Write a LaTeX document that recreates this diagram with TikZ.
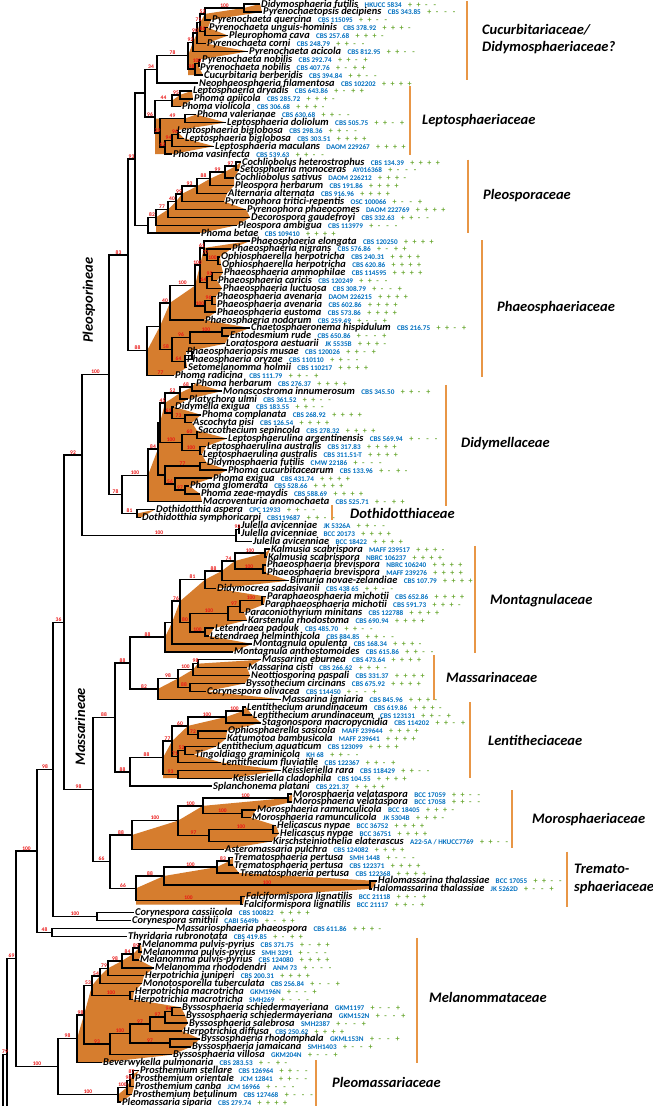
\documentclass[tikz,border=0pt]{standalone}
\usepackage{fontspec}
\setmainfont{Carlito}
\usetikzlibrary{calc}
\pgfdeclarelayer{background}
\pgfsetlayers{background,main}
\definecolor{cladefill}{RGB}{214,125,46}
\definecolor{barcol}{RGB}{232,150,70}
\definecolor{strainblue}{RGB}{0,112,192}
\definecolor{markgreen}{RGB}{106,168,50}
\definecolor{supred}{RGB}{235,20,20}
\tikzset{
 br/.style={line width=1.4pt, black},
 nm/.style={anchor=base west, inner sep=0pt, text height=6pt, text depth=0.8pt, font=\fontsize{10.4}{10.4}\selectfont\bfseries\itshape},
 st/.style={anchor=base west, inner sep=0pt, text height=5pt, text depth=0.5pt, text=strainblue, font=\fontsize{7.2}{7.2}\selectfont\bfseries},
 mks/.style={anchor=base west, inner sep=0pt, text height=5pt, text depth=0.5pt, text=markgreen, font=\fontsize{8}{8}\selectfont\bfseries},
 sup/.style={text=supred, font=\fontsize{5.5}{5.5}\selectfont\bfseries, inner sep=0pt, text height=3.5pt, text depth=0pt, anchor=south, yshift=0.6pt},
 clade/.style={fill=cladefill},
 fambar/.style={draw=barcol, line width=1.4pt},
 fam/.style={anchor=west, inner sep=0pt, font=\fontsize{14.5}{14.5}\selectfont\bfseries\itshape},
}
\newcommand\mkc[1]{\makebox[8.5pt][l]{#1}}
\newcommand\mkrow[4]{\mkc{#1}\mkc{#2}\mkc{#3}\mkc{#4}}
\newcommand\leaf[5]{%
 \coordinate (t#1) at (#2-1,#1);
 \node[nm] (N#1) at ([xshift=1pt,yshift=-3pt]t#1) {#3};
 \node[st] (S#1) at ([xshift=6pt]N#1.base east) {#4};
 \node[mks] (M#1) at ([xshift=6pt]S#1.base east) {\mkrow#5};
}
\newcommand\nd[6]{%
 \path ($(#3)!0.5!(#5)$) coordinate (#1m);
 \path (#2,0 |- #1m) coordinate (#1);
 \draw[br] (#3) -| (#1) |- (#5);
 \node[sup] (#1la) at ($(#1 |- #3)!0.5!(#3)$) {#4};
 \node[sup] (#1lb) at ($(#1 |- #5)!0.5!(#5)$) {#6};
}
\begin{document}
\begin{tikzpicture}[x=1pt,y=-7.9pt]
\useasboundingbox (0pt,0pt) rectangle (653pt,-1106pt);
\clip (0pt,0pt) rectangle (653pt,-1106pt);
\begin{pgfonlayer}{background}
\fill[white] (0pt,0pt) rectangle (653pt,-1106pt);
\end{pgfonlayer}
\begin{scope}[yshift=3.9pt]
% ---------------- leaves
\leaf{1}{261}{Didymosphaeria futilis}{HKUCC 5834}{++--}
\leaf{2}{263}{Pyrenochaetopsis decipiens}{CBS 343.85}{+---}
\leaf{3}{212}{Pyrenochaeta quercina}{CBS 115095}{++--}
\leaf{4}{209}{Pyrenochaeta unguis-hominis}{CBS 378.92}{+++-}
\leaf{5}{229}{Pleurophoma cava}{CBS 257.68}{+++-}
\leaf{6}{207}{Pyrenochaeta corni}{CBS 248.79}{++--}
\leaf{7}{249}{Pyrenochaeta acicola}{CBS 812.95}{++--}
\leaf{8}{202}{Pyrenochaeta nobilis}{CBS 292.74}{++-+}
\leaf{9}{200}{Pyrenochaeta nobilis}{CBS 407.76}{+-++}
\leaf{10}{204}{Cucurbitaria berberidis}{CBS 394.84}{++--}
\leaf{11}{199}{Neophaeosphaeria filamentosa}{CBS 102202}{++++}
\leaf{12}{193}{Leptosphaeria dryadis}{CBS 643.86}{+-++}
\leaf{13}{194}{Phoma apiicola}{CBS 285.72}{+++-}
\leaf{14}{182}{Phoma violicola}{CBS 306.68}{+++-}
\leaf{15}{197}{Phoma valerianae}{CBS 630.68}{++--}
\leaf{16}{227}{Leptosphaeria doliolum}{CBS 505.75}{++-+}
\leaf{17}{177}{Leptosphaeria biglobosa}{CBS 298.36}{++--}
\leaf{18}{185}{Leptosphaeria biglobosa}{CBS 303.51}{++++}
\leaf{19}{215}{Leptosphaeria maculans}{DAOM 229267}{++++}
\leaf{20}{173}{Phoma vasinfecta}{CBS 539.63}{++--}
\leaf{21}{242}{Cochliobolus heterostrophus}{CBS 134.39}{++++}
\leaf{22}{240}{Setosphaeria monoceras}{AY016368}{+---}
\leaf{23}{235}{Cochliobolus sativus}{DAOM 226212}{+++-}
\leaf{24}{235}{Pleospora herbarum}{CBS 191.86}{++++}
\leaf{25}{228}{Alternaria alternata}{CBS 916.96}{++++}
\leaf{26}{225}{Pyrenophora tritici-repentis}{OSC 100066}{+--+}
\leaf{27}{247}{Pyrenophora phaeocomes}{DAOM 222769}{++++}
\leaf{28}{251}{Decorospora gaudefroyi}{CBS 332.63}{++--}
\leaf{29}{238}{Pleospora ambigua}{CBS 113979}{+---}
\leaf{30}{201}{Phoma betae}{CBS 109410}{++++}
\leaf{31}{251}{Phaeosphaeria elongata}{CBS 120250}{++++}
\leaf{32}{232}{Phaeosphaeria nigrans}{CBS 576.86}{+-++}
\leaf{33}{221}{Ophiosphaerella herpotricha}{CBS 240.31}{++++}
\leaf{34}{222}{Ophiosphaerella herpotricha}{CBS 620.86}{++++}
\leaf{35}{224}{Phaeosphaeria ammophilae}{CBS 114595}{++++}
\leaf{36}{218}{Phaeosphaeria caricis}{CBS 120249}{++--}
\leaf{37}{223}{Phaeosphaeria luctuosa}{CBS 308.79}{+--+}
\leaf{38}{217}{Phaeosphaeria avenaria}{DAOM 226215}{++++}
\leaf{39}{217}{Phaeosphaeria avenaria}{CBS 602.86}{++++}
\leaf{40}{217}{Phaeosphaeria eustoma}{CBS 573.86}{++++}
\leaf{41}{205}{Phaeosphaeria nodorum}{CBS 259.49}{+--+}
\leaf{42}{251}{Chaetosphaeronema hispidulum}{CBS 216.75}{++-+}
\leaf{43}{230}{Entodesmium rude}{CBS 650.86}{+--+}
\leaf{44}{226}{Loratospora aestuarii}{JK 5535B}{+++-}
\leaf{45}{187}{Phaeosphaeriopsis musae}{CBS 120026}{++-+}
\leaf{46}{187}{Phaeosphaeria oryzae}{CBS 110110}{++--}
\leaf{47}{188}{Setomelanomma holmii}{CBS 110217}{++++}
\leaf{48}{175}{Phoma radicina}{CBS 111.79}{++-+}
\leaf{49}{196}{Phoma herbarum}{CBS 276.37}{++++}
\leaf{50}{223}{Monascostroma innumerosum}{CBS 345.50}{++-+}
\leaf{51}{189}{Platychora ulmi}{CBS 361.52}{++--}
\leaf{52}{175}{Didymella exigua}{CBS 183.55}{++--}
\leaf{53}{202}{Phoma complanata}{CBS 268.92}{++++}
\leaf{54}{193}{Ascochyta pisi}{CBS 126.54}{++++}
\leaf{55}{198}{Saccothecium sepincola}{CBS 278.32}{++++}
\leaf{56}{228}{Leptosphaerulina argentinensis}{CBS 569.94}{+---}
\leaf{57}{207}{Leptosphaerulina australis}{CBS 317.83}{++++}
\leaf{58}{203}{Leptosphaerulina australis}{CBS 311.51-T}{++++}
\leaf{59}{207}{Didymosphaeria futilis}{CMW 22186}{+---}
\leaf{60}{228}{Phoma cucurbitacearum}{CBS 133.96}{+-+-}
\leaf{61}{213}{Phoma exigua}{CBS 431.74}{++++}
\leaf{62}{190}{Phoma glomerata}{CBS 528.66}{++++}
\leaf{63}{201}{Phoma zeae-maydis}{CBS 588.69}{++++}
\leaf{64}{203}{Macroventuria anomochaeta}{CBS 525.71}{+-++}
\leaf{65}{156}{Dothidotthia aspera}{CPC 12933}{++--}
\leaf{66}{142}{Dothidotthia symphoricarpi}{CBS119687}{++--}
\leaf{67}{241}{Julella avicenniae}{JK 5326A}{++--}
\leaf{68}{241}{Julella avicenniae}{BCC 20173}{++++}
\leaf{69}{253}{Julella avicenniae}{BCC 18422}{++++}
\leaf{70}{271}{Kalmusia scabrispora}{MAFF 239517}{+++-}
\leaf{71}{268}{Kalmusia scabrispora}{NBRC 106237}{++++}
\leaf{72}{267}{Phaeosphaeria brevispora}{NBRC 106240}{++++}
\leaf{73}{267}{Phaeosphaeria brevispora}{MAFF 239276}{++++}
\leaf{74}{290}{Bimuria novae-zelandiae}{CBS 107.79}{++++}
\leaf{75}{217}{Didymocrea sadasivanii}{CBS 438 65}{++--}
\leaf{76}{267}{Paraphaeosphaeria michotii}{CBS 652.86}{++++}
\leaf{77}{265}{Paraphaeosphaeria michotii}{CBS 591.73}{+++-}
\leaf{78}{245}{Paraconiothyrium minitans}{CBS 122788}{++++}
\leaf{79}{248}{Karstenula rhodostoma}{CBS 690.94}{++++}
\leaf{80}{215}{Letendraea padouk}{CBS 485.70}{++--}
\leaf{81}{210}{Letendraea helminthicola}{CBS 884.85}{++--}
\leaf{82}{253}{Montagnula opulenta}{CBS 168.34}{+++-}
\leaf{83}{234}{Montagnula anthostomoides}{CBS 615.86}{++--}
\leaf{84}{262}{Massarina eburnea}{CBS 473.64}{++++}
\leaf{85}{248}{Massarina cisti}{CBS 266.62}{+++-}
\leaf{86}{251}{Neottiosporina paspali}{CBS 331.37}{++++}
\leaf{87}{246}{Byssothecium circinans}{CBS 675.92}{++++}
\leaf{88}{207}{Corynespora olivacea}{CBS 114450}{+--+}
\leaf{89}{282}{Massarina igniaria}{CBS 845.96}{+++-}
\leaf{90}{247}{Lentithecium arundinaceum}{CBS 619.86}{+++-}
\leaf{91}{253}{Lentithecium arundinaceum}{CBS 123131}{++-+}
\leaf{92}{262}{Stagonospora macropycnidia}{CBS 114202}{++-+}
\leaf{93}{228}{Ophiosphaerella sasicola}{MAFF 239644}{++++}
\leaf{94}{227}{Katumotoa bambusicola}{MAFF 239641}{++++}
\leaf{95}{217}{Lentithecium aquaticum}{CBS 123099}{++++}
\leaf{96}{195}{Tingoldiago graminicola}{KH 68}{++--}
\leaf{97}{222}{Lentithecium fluviatile}{CBS 122367}{++-+}
\leaf{98}{282}{Keissleriella rara}{CBS 118429}{++--}
\leaf{99}{233}{Keissleriella cladophila}{CBS 104.55}{++++}
\leaf{100}{213}{Splanchonema platani}{CBS 221.37}{++++}
\leaf{101}{293}{Morosphaeria velataspora}{BCC 17059}{++--}
\leaf{102}{293}{Morosphaeria velataspora}{BCC 17058}{++--}
\leaf{103}{257}{Morosphaeria ramunculicola}{BCC 18405}{+++-}
\leaf{104}{252}{Morosphaeria ramunculicola}{JK 5304B}{+++-}
\leaf{105}{277}{Helicascus nypae}{BCC 36752}{++++}
\leaf{106}{280}{Helicascus nypae}{BCC 36751}{++++}
\leaf{107}{273}{Kirschsteiniothelia elaterascus}{A22-5A / HKUCC7769}{++--}
\leaf{108}{225}{Asteromassaria pulchra}{CBS 124082}{++++}
\leaf{109}{234}{Trematosphaeria pertusa}{SMH 1448}{+---}
\leaf{110}{234}{Trematosphaeria pertusa}{CBS 122371}{++++}
\leaf{111}{240}{Trematosphaeria pertusa}{CBS 122368}{++++}
\leaf{112}{378}{Halomassarina thalassiae}{BCC 17055}{++--}
\leaf{113}{373}{Halomassarina thalassiae}{JK 5262D}{+--+}
\leaf{114}{246}{Falciformispora lignatilis}{BCC 21118}{++-+}
\leaf{115}{244}{Falciformispora lignatilis}{BCC 21117}{++-+}
\leaf{116}{135}{Corynespora cassiicola}{CBS 100822}{++++}
\leaf{117}{132}{Corynespora smithii}{CABI 5649b}{+-++}
\leaf{118}{176}{Massariosphaeria phaeospora}{CBS 611.86}{+++-}
\leaf{119}{128}{Thyridaria rubronotata}{CBS 419.85}{+-++}
\leaf{120}{142}{Melanomma pulvis-pyrius}{CBS 371.75}{+-++}
\leaf{121}{143}{Melanomma pulvis-pyrius}{SMH 3291}{+---}
\leaf{122}{140}{Melanomma pulvis-pyrius}{CBS 124080}{++++}
\leaf{123}{155}{Melanomma rhododendri}{ANM 73}{+---}
\leaf{124}{145}{Herpotrichia juniperi}{CBS 200.31}{++++}
\leaf{125}{143}{Monotosporella tuberculata}{CBS 256.84}{+--+}
\leaf{126}{135}{Herpotrichia macrotricha}{GKM196N}{+--+}
\leaf{127}{134}{Herpotrichia macrotricha}{SMH269}{+---}
\leaf{128}{182}{Byssosphaeria schiedermayeriana}{GKM1197}{+--+}
\leaf{129}{186}{Byssosphaeria schiedermayeriana}{GKM152N}{+--+}
\leaf{130}{189}{Byssosphaeria salebrosa}{SMH2387}{+--+}
\leaf{131}{183}{Herpotrichia diffusa}{CBS 250.62}{++++}
\leaf{132}{201}{Byssosphaeria rhodomphala}{GKML153N}{+--+}
\leaf{133}{192}{Byssosphaeria jamaicana}{SMH1403}{+--+}
\leaf{134}{173}{Byssosphaeria villosa}{GKM204N}{+--+}
\leaf{135}{103}{Beverwykella pulmonaria}{CBS 283.53}{+-+-}
\leaf{136}{140}{Prosthemium stellare}{CBS 126964}{++--}
\leaf{137}{135}{Prosthemium orientale}{JCM 12841}{++--}
\leaf{138}{135}{Prosthemium canba}{JCM 16966}{+---}
\leaf{139}{133}{Prosthemium betulinum}{CBS 127468}{+---}
\leaf{140}{122}{Pleomassaria siparia}{CBS 279.74}{++++}
% ---------------- Cucurbitariaceae
\nd{c1}{244}{t1}{}{t2}{}
\nd{c2}{205}{c1}{100}{t3}{}
\nd{c3}{205}{t4}{}{t5}{}
\nd{c4}{200}{c2}{52}{c3}{86}
\nd{c5}{197}{c4}{71}{t6}{}
\nd{c6}{193}{c5}{90}{t7}{}
\nd{c7}{199}{t8}{}{t9}{}
\nd{c8}{195}{c7}{100}{t10}{}
\nd{c9}{188}{c6}{92}{c8}{98}
\nd{c10}{157}{c9}{78}{t11}{}
% ---------------- Leptosphaeriaceae
\nd{l1}{180}{t12}{}{t13}{}
\nd{l2}{172}{l1}{95}{t14}{}
\nd{l3}{185}{t15}{}{t16}{}
\nd{l4}{178}{t17}{}{t18}{}
\nd{l5}{172}{l4}{96}{t19}{}
\nd{l6}{165}{l5}{94}{t20}{}
\nd{l7}{160}{l3}{49}{l6}{62}
\nd{l8}{155}{l2}{44}{l7}{29}
\nd{cl}{145}{c10}{34}{l8}{96}
% ---------------- Pleosporaceae
\nd{p1}{236}{t21}{}{t22}{}
\nd{p2}{225}{p1}{97}{t23}{}
\nd{p3}{210}{p2}{99}{t24}{}
\nd{p4}{197}{p3}{88}{t25}{}
\nd{p5}{182}{p4}{93}{t26}{}
\nd{p6}{176}{p5}{99}{t27}{}
\nd{p7}{168}{p6}{40}{t28}{}
\nd{p8}{156}{p7}{77}{t29}{}
\nd{p9}{148}{p8}{82}{t30}{}
\nd{cp}{135}{cl}{}{p9}{}
% ---------------- Phaeosphaeriaceae
\nd{f1}{218}{t33}{}{t34}{}
\nd{f2}{207}{t32}{}{f1}{100}
\nd{f3}{204}{t31}{}{f2}{77}
\nd{f4}{212}{t35}{}{t36}{}
\nd{f5}{207}{f4}{95}{t37}{}
\nd{f6}{200}{f3}{61}{f5}{64}
\nd{f7}{212}{t38}{}{t39}{}
\nd{f8}{205}{f7}{96}{t40}{}
\nd{f9}{195}{f6}{100}{f8}{100}
\nd{fb}{170}{f9}{100}{t41}{}
\nd{f10}{222}{t42}{}{t43}{}
\nd{f11}{190}{f10}{100}{t44}{}
\nd{f12}{192}{t45}{}{t46}{}
\nd{f13}{185}{f12}{}{t47}{}
\nd{fc}{172}{f11}{96}{f13}{64}
\nd{fa}{160}{fb}{40}{fc}{58}
\nd{f}{147}{fa}{}{t48}{77}
\nd{X}{128}{cp}{93}{f}{88}
% ---------------- Didymellaceae / Dothidotthiaceae
\nd{g1}{192}{t49}{}{t50}{}
\nd{g2}{180}{g1}{68}{t51}{}
\nd{g3}{185}{t53}{}{t54}{}
\nd{g4}{172}{t52}{}{g3}{73}
\nd{g5}{165}{g2}{52}{g4}{61}
\nd{g7}{197}{t55}{}{t56}{}
\nd{g6}{200}{t57}{}{t58}{}
\nd{g8}{182}{g7}{60}{g6}{100}
\nd{g9}{160}{g5}{45}{g8}{100}
\nd{g10}{200}{t59}{}{t60}{}
\nd{g11}{185}{t62}{}{t63}{}
\nd{g12}{175}{t61}{}{g11}{97}
\nd{g13}{165}{g10}{77}{g12}{56}
\nd{da}{158}{g9}{}{g13}{}
\nd{d}{148}{da}{84}{t64}{}
\nd{dt}{137}{t65}{}{t66}{}
\nd{dd}{122}{d}{100}{dt}{81}
\nd{n83}{109}{X}{83}{dd}{78}
\nd{jj}{239}{t67}{}{t68}{}
\nd{j}{236}{jj}{92}{t69}{}
\nd{pr}{82}{n83}{100}{j}{100}
% ---------------- Montagnulaceae
\nd{m1}{265}{t70}{}{t71}{}
\nd{m2}{263}{t72}{}{t73}{}
\nd{m3}{235}{m1}{100}{m2}{100}
\nd{m4}{222}{m3}{74}{t74}{}
\nd{m5}{205}{m4}{88}{t75}{}
\nd{m6}{262}{t76}{}{t77}{}
\nd{m7}{240}{m6}{100}{t78}{}
\nd{m8}{228}{m7}{97}{t79}{}
\nd{m9}{205}{t80}{}{t81}{}
\nd{m10}{190}{m8}{100}{m9}{100}
\nd{m11}{180}{m5}{81}{m10}{80}
\nd{m12}{172}{m11}{76}{t82}{}
\nd{mo}{165}{m12}{}{t83}{}
% ---------------- Massarinaceae
\nd{a1}{198}{t84}{}{t85}{}
\nd{a2}{193}{a1}{98}{t86}{}
\nd{a3}{190}{t87}{}{t88}{}
\nd{a4}{178}{a2}{100}{a3}{88}
\nd{ma}{158}{a4}{98}{t89}{}
\nd{mm}{130}{mo}{88}{ma}{82}
% ---------------- Lentitheciaceae
\nd{e1}{243}{t90}{}{t91}{}
\nd{e2}{226}{e1}{100}{t92}{}
\nd{e3}{198}{t93}{}{t94}{}
\nd{e4}{188}{e2}{100}{e3}{72}
\nd{e5}{185}{t95}{}{t96}{}
\nd{e6}{178}{e5}{52}{t97}{}
\nd{e7}{172}{e4}{60}{e6}{71}
\nd{e8}{178}{t98}{}{t99}{}
\nd{lr}{163}{e7}{77}{e8}{93}
\nd{ls}{130}{lr}{88}{t100}{}
\nd{m115}{115}{mm}{88}{ls}{88}
% ---------------- Morosphaeriaceae
\nd{o1}{288}{t101}{}{t102}{}
\nd{o2}{242}{t103}{}{t104}{}
\nd{o3}{203}{o1}{100}{o2}{100}
\nd{o5}{273}{t105}{}{t106}{}
\nd{o6}{209}{o5}{100}{t107}{}
\nd{o7}{178}{o3}{100}{o6}{97}
\nd{o8}{132}{o7}{100}{t108}{}
% ---------------- Trematosphaeriaceae
\nd{r1}{229}{t109}{}{t110}{}
\nd{r2}{217}{r1}{83}{t111}{}
\nd{r3}{370}{t112}{}{t113}{}
\nd{r4}{164}{r2}{100}{r3}{100}
\nd{r5}{241}{t114}{}{t115}{}
\nd{r6}{136}{r4}{88}{r5}{100}
\nd{m110}{110}{o8}{88}{r6}{66}
\nd{mr}{93}{m115}{88}{m110}{66}
% ---------------- backbone
\nd{bA}{64}{pr}{92}{mr}{98}
\nd{cy}{97}{t116}{}{t117}{}
\nd{bB}{53}{bA}{36}{cy}{100}
\nd{mt}{52}{t118}{}{t119}{}
\nd{bC}{37}{bB}{98}{mt}{48}
% ---------------- Melanommataceae
\nd{h1}{139}{t120}{}{t121}{}
\nd{h2}{133}{h1}{89}{t122}{}
\nd{h3}{122}{h2}{84}{t123}{}
\nd{h4}{108}{h3}{98}{t124}{}
\nd{h5}{100}{h4}{79}{t125}{}
\nd{h6}{130}{t126}{}{t127}{}
\nd{h7}{92}{h5}{54}{h6}{100}
\nd{h8}{172}{t128}{}{t129}{}
\nd{h9}{165}{h8}{94}{t130}{}
\nd{h10}{150}{h9}{97}{t131}{}
\nd{h11}{170}{t132}{}{t133}{}
\nd{h12}{130}{h10}{97}{h11}{97}
\nd{h13}{110}{h12}{100}{t134}{}
\nd{mel}{84}{h7}{53}{h13}{93}
\nd{mb}{77}{mel}{98}{t135}{}
% ---------------- Pleomassariaceae
\nd{q1}{133}{t136}{}{t137}{}
\nd{q2}{130}{q1}{87}{t138}{}
\nd{q3}{127}{q2}{98}{t139}{}
\nd{pl}{118}{q3}{100}{t140}{}
\nd{MP}{58}{mb}{98}{pl}{100}
\nd{bD}{16}{bC}{100}{MP}{100}
\coordinate (bot) at (0,141);
\coordinate (bE) at (7,134);
\coordinate (R) at (3,134);
\draw[br] (bD) -| (bE |- bot);
\draw[br] (bE) -- (R) -- (R |- bot);
\node[sup] (lbE) at ($(R)!0.5!(bE)$) {79};
\node[sup] (lbD) at ($(bE |- bD)!0.5!(bD)$) {69};
% ---------------- shaded clades
\begin{pgfonlayer}{background}
\fill[clade] (c9) -- (c6) -- (c5) -- (c4) -- (c2) -- (c1) -- (t1) \foreach \i in {2,...,10}{ -- (t\i)} -- (c9 |- t10) -- cycle;
\fill[clade] (l2) -- (l1) -- (t12) -- (t13) -- (t14) -- (l2 |- t14) -- cycle;
\fill[clade] (l8 |- l3) -- (l3) -- (t15) \foreach \i in {16,...,20}{ -- (t\i)} -- (l8 |- t20) -- cycle;
\fill[clade] (p8) -- (p7) -- (p6) -- (p5) -- (p4) -- (p3) -- (p2) -- (p1) -- (t21) \foreach \i in {22,...,30}{ -- (t\i)} -- (p8 |- t30) -- cycle;
\fill[clade] (f) -- (fa) -- (fb) -- (f9) -- (f6) -- (f3) -- (t31) \foreach \i in {32,...,48}{ -- (t\i)} -- (f |- t48) -- cycle;
\fill[clade] (d) -- (da) -- (g9) -- (g5) -- (g2) -- (g1) -- (t49) \foreach \i in {50,...,64}{ -- (t\i)} -- (d |- t64) -- cycle;
\fill[clade] (dt) -- (t65) -- (t66) -- (dt |- t66) -- cycle;
\fill[clade] (mo) -- (m12) -- (m11) -- (m5) -- (m4) -- (m3) -- (m1) -- (t70) \foreach \i in {71,...,83}{ -- (t\i)} -- (mo |- t83) -- cycle;
\fill[clade] (ma) -- (a4) -- (a2) -- (a1) -- (t84) \foreach \i in {85,...,89}{ -- (t\i)} -- (ma |- t89) -- cycle;
\fill[clade] (lr) -- (e7) -- (e4) -- (e2) -- (e1) -- (t90) \foreach \i in {91,...,99}{ -- (t\i)} -- (lr |- t99) -- cycle;
\fill[clade] (o8) -- (o7) -- (o3) -- (o1) -- (t101) \foreach \i in {102,...,108}{ -- (t\i)} -- (o8 |- t108) -- cycle;
\fill[clade] (r6) -- (r4) -- (r2) -- (r1) -- (t109) \foreach \i in {110,...,115}{ -- (t\i)} -- (r6 |- t115) -- cycle;
\fill[clade] (mb) -- (mel) -- (h7) -- (h5) -- (h4) -- (h3) -- (h2) -- (h1) -- (t120) \foreach \i in {121,...,135}{ -- (t\i)} -- (mb |- t135) -- cycle;
\fill[clade] (pl) -- (q3) -- (q2) -- (q1) -- (t136) \foreach \i in {137,...,140}{ -- (t\i)} -- (pl |- t140) -- cycle;
\end{pgfonlayer}
% ---------------- family bars and names
\draw[fambar] (467,0.6) -- (467,10.6);
\draw[fambar] (410,11.4) -- (410,20.1);
\draw[fambar] (468,20.7) -- (468,30);
\draw[fambar] (482,30.9) -- (482,48.2);
\draw[fambar] (446,49.2) -- (446,64.5);
\draw[fambar] (332,64.4) -- (332,66.3);
\draw[fambar] (475,69.6) -- (475,83.2);
\draw[fambar] (434,83.4) -- (434,89.1);
\draw[fambar] (470,89.4) -- (470,99.0);
\draw[fambar] (512,100.5) -- (512,107.8);
\draw[fambar] (567,108.3) -- (567,115.3);
\draw[fambar] (417,119.2) -- (417,135);
\draw[fambar] (316,134.7) -- (316,140.6);
\node[fam] (F1) at (482,4.3) {Cucurbitariaceae/};
\node[fam] (F1b) at (482,6.5) {Didymosphaeriaceae?};
\node[fam] (F2) at (422,15.7) {Leptosphaeriaceae};
\node[fam] (F3) at (483,25.3) {Pleosporaceae};
\node[fam] (F4) at (497,39.4) {Phaeosphaeriaceae};
\node[fam] (F5) at (461,56.6) {Didymellaceae};
\node[fam] (F6) at (350,65.5) {Dothidotthiaceae};
\node[fam] (F7) at (490,76.5) {Montagnulaceae};
\node[fam] (F8) at (446,86.3) {Massarinaceae};
\node[fam] (F9) at (488,94.2) {Lentitheciaceae};
\node[fam] (F10) at (532,104.2) {Morosphaeriaceae};
\node[fam] (F11) at (574,110.5) {Tremato-};
\node[fam] (F11b) at (574,112.8) {sphaeriaceae};
\node[fam] (F12) at (429,126.8) {Melanommataceae};
\node[fam] (F13) at (332,137.5) {Pleomassariaceae};
\node[fam, rotate=90, anchor=center] (S1) at (89,38.5) {Pleosporineae};
\node[fam, rotate=90, anchor=center] (S2) at (80,92.5) {Massarineae};
\end{scope}
\end{tikzpicture}
\end{document}
